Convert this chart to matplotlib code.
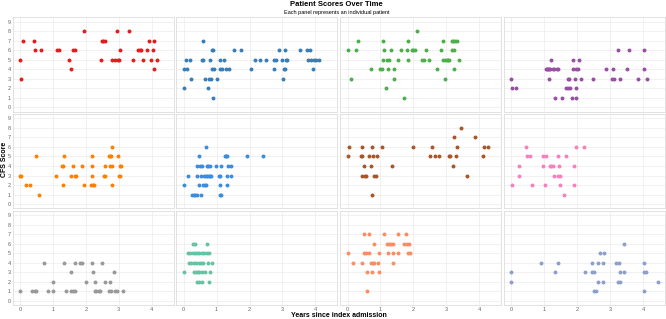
import matplotlib.pyplot as plt

plt.rcParams['font.family'] = ['Liberation Sans', 'DejaVu Sans']

# one list of years and one of scores per patient panel
p1_x = [0.0, 0.02, 0.08, 0.43, 0.47, 0.64, 1.12, 1.2, 1.48, 1.56, 1.62, 1.66, 1.95, 2.46, 2.5, 2.54, 2.58,
        2.79, 2.9, 2.95, 2.97, 3.01, 3.05, 3.33, 3.43, 3.6, 3.64, 3.68, 3.75, 3.85, 3.93, 3.97, 4.05, 4.07, 4.07, 4.17]
p1_y = [5, 3, 7, 7, 6, 6, 6, 6, 5, 4, 6, 6, 8, 5, 7, 7, 7,
        5, 5, 8, 5, 5, 6, 8, 5, 6, 6, 6, 5, 6, 7, 5, 6, 7, 4, 5]

p2_x = [0.0, 0.01, 0.06, 0.09, 0.19, 0.22, 0.56, 0.59, 0.6, 0.64, 0.73, 0.76, 0.81, 0.82, 0.85, 0.87, 0.88, 0.89,
        0.91, 1.0, 1.09, 1.11, 1.15, 1.22, 1.28, 1.38, 1.54, 1.74, 2.04, 2.17, 2.32, 2.49, 2.75, 2.75, 2.81, 2.9,
        2.98, 3.02, 3.05, 3.07, 3.08, 3.12, 3.14, 3.53, 3.74, 3.77, 3.83, 3.87, 3.93, 3.96, 4.03, 4.1]
p2_y = [2, 4, 5, 4, 5, 3, 5, 5, 7, 3, 2, 3, 5, 3, 6, 4, 1, 6,
        4, 3, 5, 4, 4, 5, 4, 4, 6, 6, 4, 5, 5, 5, 4, 5, 5, 6,
        5, 3, 4, 6, 4, 5, 5, 6, 6, 5, 6, 5, 4, 5, 5, 5]

p3_x = [0.0, 0.12, 0.25, 0.32, 0.7, 0.99, 1.04, 1.07, 1.09, 1.11, 1.18, 1.21, 1.24, 1.26, 1.33, 1.42, 1.42, 1.54,
        1.63, 1.73, 1.81, 1.83, 1.84, 1.96, 2.0, 2.05, 2.11, 2.27, 2.31, 2.4, 2.48, 2.71, 2.84, 2.89, 2.91, 2.96,
        2.97, 3.01, 3.05, 3.09, 3.16, 3.18, 3.22, 3.25, 3.25, 3.28, 3.32, 3.38]
p3_y = [6, 3, 6, 7, 4, 4, 4, 5, 7, 6, 2, 5, 4, 5, 6, 4, 3, 5,
        6, 1, 6, 7, 5, 6, 6, 6, 8, 5, 5, 6, 5, 4, 6, 7, 5, 3,
        5, 5, 5, 5, 7, 6, 7, 4, 6, 7, 7, 5]

p4_x = [0.0, 0.01, 0.13, 1.05, 1.08, 1.1, 1.13, 1.14, 1.18, 1.2, 1.28, 1.31, 1.34, 1.39, 1.43, 1.55, 1.66, 1.71,
        1.72, 1.76, 1.78, 1.84, 1.86, 1.88, 1.92, 1.96, 1.96, 1.96, 2.04, 2.05, 2.13, 2.49, 2.87, 3.05, 3.09, 3.12,
        3.24, 3.3, 3.53, 3.59, 3.85, 4.02, 4.03, 4.12]
p4_y = [3, 2, 2, 4, 4, 4, 3, 4, 4, 5, 4, 4, 1, 4, 4, 1, 2, 3,
        2, 3, 2, 1, 4, 5, 3, 2, 4, 1, 4, 5, 3, 3, 4, 3, 4, 3,
        6, 3, 4, 6, 3, 4, 6, 3]

p5_x = [0.0, 0.02, 0.2, 0.3, 0.5, 0.57, 1.09, 1.28, 1.31, 1.31, 1.35, 1.55, 1.62, 1.66, 1.71, 1.88, 1.96, 2.16,
        2.19, 2.2, 2.2, 2.22, 2.24, 2.56, 2.58, 2.6, 2.7, 2.74, 2.75, 2.77, 2.79, 2.81, 2.81, 2.98, 3.0, 3.03,
        3.04, 3.07]
p5_y = [3, 3, 2, 2, 5, 1, 3, 4, 4, 2, 5, 3, 4, 3, 3, 4, 2, 2,
        4, 5, 3, 2, 2, 3, 4, 3, 5, 4, 5, 5, 4, 6, 2, 5, 3, 4,
        3, 4]

p6_x = [0.0, 0.12, 0.26, 0.31, 0.35, 0.39, 0.39, 0.41, 0.47, 0.47, 0.5, 0.54, 0.54, 0.57, 0.59, 0.61, 0.64, 0.68,
        0.68, 0.68, 0.71, 0.72, 0.75, 0.76, 0.8, 0.8, 0.83, 0.97, 1.08, 1.1, 1.11, 1.11, 1.12, 1.14, 1.27, 1.3,
        1.31, 1.32, 1.33, 1.35, 1.43, 1.45, 1.93, 2.4]
p6_y = [2, 3, 1, 1, 1, 4, 3, 1, 5, 2, 4, 1, 3, 4, 2, 3, 2, 6,
        2, 3, 4, 3, 4, 3, 4, 3, 3, 4, 3, 3, 2, 1, 4, 1, 5, 5,
        5, 3, 2, 4, 4, 3, 5, 5]

p7_x = [0.02, 0.05, 0.4, 0.44, 0.45, 0.51, 0.44, 0.53, 0.57, 0.64, 0.71, 0.73, 0.74, 0.77, 0.81, 0.86, 0.89, 1.06,
        1.35, 2.0, 2.5, 2.56, 2.66, 2.79, 3.08, 3.12, 3.22, 3.23, 3.31, 3.32, 3.46, 3.64, 3.86, 4.12, 4.14, 4.27]
p7_y = [5, 6, 5, 6, 5, 4, 3, 3, 3, 5, 4, 1, 6, 5, 3, 3, 5, 6,
        4, 6, 5, 6, 5, 5, 5, 5, 4, 7, 5, 6, 8, 3, 7, 5, 6, 6]

p8_x = [0.01, 0.23, 0.23, 0.46, 0.47, 0.58, 0.63, 0.95, 0.96, 1.02, 1.05, 1.18, 1.22, 1.26, 1.3, 1.42, 1.43, 1.46,
        1.48, 1.48, 1.6, 1.65, 1.9, 1.9, 1.97, 2.21]
p8_y = [2, 4, 3, 6, 5, 5, 2, 4, 5, 2, 5, 4, 4, 4, 3, 5, 3, 4,
        3, 2, 1, 5, 4, 2, 6, 6]

p9_x = [0.0, 0.36, 0.45, 0.5, 0.72, 0.85, 1.0, 1.02, 1.35, 1.4, 1.55, 1.54, 1.6, 1.66, 1.67, 1.83, 1.88, 2.01,
        2.2, 2.23, 2.27, 2.29, 2.31, 2.39, 2.43, 2.48, 2.58, 2.71, 2.73, 2.76, 2.85, 2.88, 2.94, 3.12]
p9_y = [1, 1, 1, 1, 4, 1, 1, 2, 4, 1, 3, 1, 1, 1, 4, 4, 4, 2,
        4, 3, 1, 2, 1, 1, 1, 4, 2, 1, 2, 1, 3, 1, 1, 1]

p10_x = [0.28, 0.35, 0.71,
         0.13, 0.2, 0.27, 0.34, 0.41, 0.48, 0.55, 0.63, 0.7, 0.76,
         0.16, 0.23, 0.3, 0.37, 0.45, 0.52, 0.59, 0.74, 0.87,
         0.0, 0.3, 0.36, 0.42, 0.48, 0.55, 0.66, 0.79,
         0.41, 0.48, 0.56, 0.76]
p10_y = [6, 6, 6,
         5, 5, 5, 5, 5, 5, 5, 5, 5, 5,
         4, 4, 4, 4, 4, 4, 4, 4, 4,
         3, 3, 3, 3, 3, 3, 3, 3,
         2, 2, 2, 2]

p11_x = [0.51, 0.66, 1.11, 1.53, 1.79,
         0.82, 1.21, 1.26, 1.32, 1.39, 1.73, 1.81, 1.86,
         0.0, 0.49, 0.55, 0.66, 0.95, 1.24, 1.39, 1.54, 1.84, 1.89,
         0.16, 0.45, 0.71, 0.76, 0.82, 0.93, 1.38,
         0.59, 0.75, 0.97,
         0.59]
p11_y = [7, 7, 7, 7, 7,
         6, 6, 6, 6, 6, 6, 6, 6,
         5, 5, 5, 5, 5, 5, 5, 5, 5, 5,
         4, 4, 4, 4, 4, 4, 4,
         3, 3, 3,
         1]

p12_x = [3.41,
         2.69, 2.81,
         0.9, 1.41, 2.44, 2.64, 2.8, 3.19, 3.27, 4.04,
         0.0, 1.33, 2.23, 2.44, 2.52, 3.29, 3.42, 4.04, 4.1,
         0.0, 2.64, 2.8, 3.24, 3.31, 4.45,
         2.52, 2.57, 4.04]
p12_y = [6,
         5, 5,
         4, 4, 4, 4, 4, 4, 4, 4,
         3, 3, 3, 3, 3, 3, 3, 3, 3,
         2, 2, 2, 2, 2, 2,
         1, 1, 1]

colors = ['#E41A1C', '#377EB8', '#4DAF4A', '#984EA3', '#FF7F00', '#3A8DDE',
          '#A65628', '#F781BF', '#999999', '#66C2A5', '#FC8D62', '#8DA0CB']

panels = [(p1_x, p1_y), (p2_x, p2_y), (p3_x, p3_y), (p4_x, p4_y),
          (p5_x, p5_y), (p6_x, p6_y), (p7_x, p7_y), (p8_x, p8_y),
          (p9_x, p9_y), (p10_x, p10_y), (p11_x, p11_y), (p12_x, p12_y)]

fig, axes = plt.subplots(3, 4, figsize=(6.66, 3.19), dpi=100, sharex=True, sharey=True)
fig.subplots_adjust(left=0.019, right=0.9985, top=0.946, bottom=0.043, wspace=0.018, hspace=0.025)

for ax, (xs, ys), c in zip(axes.flat, panels, colors):
    ax.scatter(xs, ys, s=8, color=c, linewidths=0, zorder=3)
    ax.set_xlim(-0.22, 4.67)
    ax.set_ylim(-0.45, 9.45)
    ax.set_xticks(range(5))
    ax.set_yticks(range(10))
    ax.grid(True, color='#EBEBEB', linewidth=0.5)
    ax.set_axisbelow(True)
    ax.tick_params(length=0, labelsize=4, colors='#666666', pad=1.5)
    for sp in ax.spines.values():
        sp.set_color('#DDDDDD')
        sp.set_linewidth(0.6)

fig.text(0.505, 0.986, 'Patient Scores Over Time', ha='center', va='center', fontsize=5.5, fontweight='bold')
fig.text(0.505, 0.961, 'Each panel represents an individual patient', ha='center', va='center', fontsize=4)
fig.text(0.007, 0.5, 'CFS Score', rotation=90, ha='center', va='center', fontsize=5, fontweight='bold')
fig.text(0.509, 0.011, 'Years since index admission', ha='center', va='center', fontsize=5, fontweight='bold')

fig.savefig('out.png', dpi=100, facecolor='white')
